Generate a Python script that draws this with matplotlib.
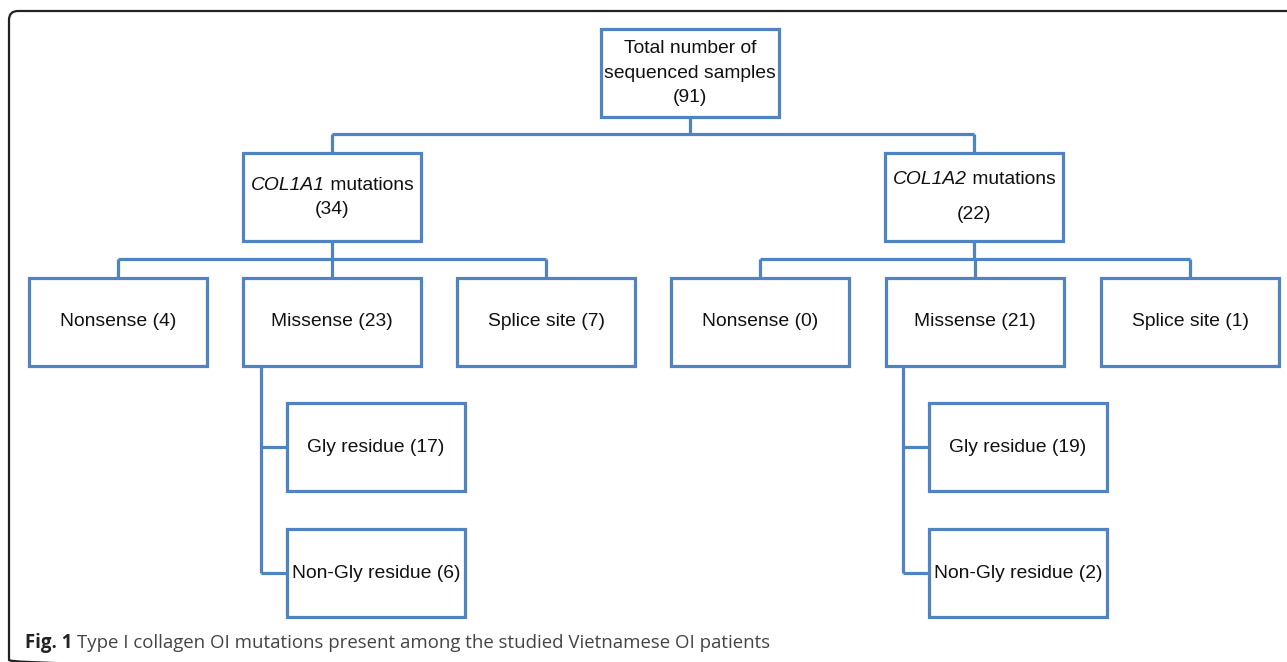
import matplotlib
matplotlib.use("Agg")
import matplotlib.pyplot as plt
from matplotlib.patches import Rectangle, FancyBboxPatch

# data
total_label = "Total number of\nsequenced samples"
total_count = 91
genes = ["COL1A1", "COL1A2"]
gene_counts = [34, 22]
mut_types = ["Nonsense", "Missense", "Splice site"]
type_counts = [[4, 23, 7], [0, 21, 1]]
residues = ["Gly residue", "Non-Gly residue"]
residue_counts = [[17, 6], [19, 2]]
caption_bold = "Fig. 1"
caption_text = "Type I collagen OI mutations present among the studied Vietnamese OI patients"

# layout (pixels, y downwards)
W, H = 1287, 662
BW, BH = 178, 88
blue = '#4f83c2'
lw = 2.3
fs = 13.9
font = 'Liberation Sans'

fig = plt.figure(figsize=(W / 100, H / 100), dpi=100)
ax = fig.add_axes([0, 0, 1, 1])
ax.set_xlim(0, W)
ax.set_ylim(H, 0)
ax.axis('off')
fig.canvas.draw()
rend = fig.canvas.get_renderer()

# outer frame, runs off the right and bottom edges
frame = FancyBboxPatch((9, 11), 1320, 658, boxstyle="round,pad=0,rounding_size=9",
                       fc='none', ec='#222222', lw=1.6)
ax.add_patch(frame)


def text_w(t, **kw):
    tt = ax.text(0, 0, t, fontsize=fs, family=font, **kw)
    bb = tt.get_window_extent(renderer=rend)
    tt.remove()
    return bb.width


def box(x, y, lines, dy=24.5, italic_lead=None):
    ax.add_patch(Rectangle((x, y), BW, BH, fc='white', ec=blue, lw=lw, zorder=3))
    cx, cy = x + BW / 2, y + BH / 2
    n = len(lines)
    for i, t in enumerate(lines):
        ty = cy + (i - (n - 1) / 2) * dy
        if i == 0 and italic_lead:
            w1 = text_w(italic_lead, style='italic')
            w2 = text_w(t)
            x0 = cx - (w1 + w2) / 2
            ax.text(x0, ty, italic_lead, ha='left', va='center', fontsize=fs,
                    family=font, style='italic', color='#111111', zorder=4)
            ax.text(x0 + w1, ty, t, ha='left', va='center', fontsize=fs,
                    family=font, color='#111111', zorder=4)
        else:
            ax.text(cx, ty, t, ha='center', va='center', fontsize=fs,
                    family=font, color='#111111', zorder=4)


def link(xs, ys):
    ax.plot(xs, ys, color=blue, lw=lw, solid_capstyle='butt',
            solid_joinstyle='miter', zorder=2)


# top box
top_x, top_y = 601, 29
tops = total_label.split("\n") + ["(%d)" % total_count]
box(top_x, top_y, tops)
top_cx = top_x + BW / 2

lvl2_x = [243, 885]
lvl2_y = 153
lvl3_x = [[29, 243, 457], [671, 886, 1101]]
lvl3_y = 278
lvl4_x = [287, 929]
lvl4_y = [403, 529]
spine_x = [261, 903]
gene_gap = [24, 35]

link([top_cx, top_cx], [top_y + BH, 134])
link([lvl2_x[0] + BW / 2, lvl2_x[1] + BW / 2], [134, 134])

for g in range(2):
    gx = lvl2_x[g]
    gcx = gx + BW / 2
    link([gcx, gcx], [134, lvl2_y])
    box(gx, lvl2_y, [" mutations", "(%d)" % gene_counts[g]],
        dy=gene_gap[g], italic_lead=genes[g])
    link([gcx, gcx], [lvl2_y + BH, 259])
    xs = lvl3_x[g]
    link([xs[0] + BW / 2, xs[-1] + BW / 2], [259, 259])
    for k, t in enumerate(mut_types):
        cx = xs[k] + BW / 2
        link([cx, cx], [259, lvl3_y])
        box(xs[k], lvl3_y, ["%s (%d)" % (t, type_counts[g][k])])
    # residue split under missense
    sx = spine_x[g]
    ends = [y + BH / 2 for y in lvl4_y]
    link([sx, sx], [lvl3_y + BH, ends[-1]])
    for r, t in enumerate(residues):
        link([sx, lvl4_x[g]], [ends[r], ends[r]])
        box(lvl4_x[g], lvl4_y[r], ["%s (%d)" % (t, residue_counts[g][r])])

# caption
t1 = ax.text(25, 648, caption_bold, fontsize=13.4, family='Open Sans',
             fontweight='bold', color='#222222', va='baseline')
bb = t1.get_window_extent(renderer=rend)
x_end = ax.transData.inverted().transform((bb.x1, 0))[0]
ax.text(x_end + 5, 648, caption_text, fontsize=13.4, family='Open Sans',
        color='#444444', va='baseline')

fig.savefig("out.png", dpi=100)
